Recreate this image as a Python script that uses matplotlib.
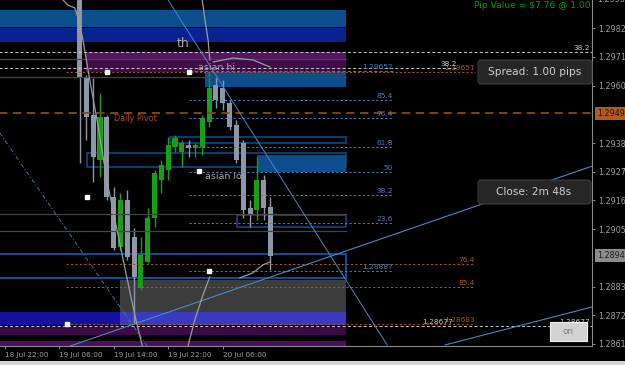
import matplotlib
matplotlib.use("Agg")
import matplotlib.pyplot as plt
from matplotlib.patches import Rectangle, FancyBboxPatch
from matplotlib.transforms import IdentityTransform, blended_transform_factory

plt.rcParams['lines.scale_dashes'] = False

# H1 bars, hours counted from 18 Jul 22:00
bar_hour = list(range(11, 40))
bar_open = [1.29950, 1.29630, 1.29488, 1.29315, 1.29480, 1.29173, 1.28982, 1.29162,
            1.29020, 1.28825, 1.28924, 1.29093, 1.29239, 1.29277, 1.29365, 1.29346,
            1.29373, 1.29361, 1.29365, 1.29461, 1.29603, 1.29591, 1.29534, 1.29449,
            1.29380, 1.29131, 1.29124, 1.29239, 1.29135]
bar_high = [1.29980, 1.29641, 1.29630, 1.29572, 1.29488, 1.29212, 1.29189, 1.29200,
            1.29055, 1.29020, 1.29131, 1.29277, 1.29315, 1.29403, 1.29411, 1.29392,
            1.29392, 1.29380, 1.29488, 1.29649, 1.29633, 1.29622, 1.29545, 1.29469,
            1.29392, 1.29162, 1.29327, 1.29258, 1.29173]
bar_low = [1.29304, 1.29392, 1.29231, 1.29250, 1.29162, 1.28970, 1.28970, 1.28932,
           1.28690, 1.28817, 1.28920, 1.29058, 1.29189, 1.29239, 1.29346, 1.29288,
           1.29327, 1.29327, 1.29334, 1.29442, 1.29515, 1.29507, 1.29430, 1.29304,
           1.29093, 1.29058, 1.29085, 1.29085, 1.28894]
bar_close = [1.29630, 1.29480, 1.29327, 1.29480, 1.29173, 1.28978, 1.29162, 1.28943,
             1.28867, 1.28951, 1.29093, 1.29265, 1.29296, 1.29373, 1.29400, 1.29380,
             1.29361, 1.29373, 1.29476, 1.29591, 1.29545, 1.29534, 1.29442, 1.29315,
             1.29124, 1.29104, 1.29239, 1.29131, 1.28948]

time_ticks = [0, 8, 16, 24, 32]
time_labels = ['18 Jul 22:00', '19 Jul 06:00', '19 Jul 14:00', '19 Jul 22:00', '20 Jul 06:00']
price_ticks = [1.29820, 1.29710, 1.29600, 1.29380, 1.29270, 1.29160, 1.29050,
               1.28830, 1.28720, 1.28610]

# filled zones: start hour, end hour, low, high
zone_start = [-2, -2, 12, 12, 29.4, 37, 17, -2, 17, -2, -2]
zone_end = [50, 50, 50, 50, 50, 50, 50, 17, 50, 50, 50]
zone_low = [1.29825, 1.29768, 1.29702, 1.29652, 1.29595, 1.29269, 1.28733,
            1.28683, 1.28683, 1.28644, 1.28598]
zone_high = [1.29890, 1.29821, 1.29729, 1.29699, 1.29653, 1.29334, 1.28855,
             1.28733, 1.28733, 1.28675, 1.28621]
zone_colors = ['#0c4d8c', '#0a2290', '#561563', '#400c4a', '#0c4d8c', '#0c4d8c',
               '#3c3c3c', '#12129e', '#3a3abf', '#3d0a48', '#4a1056']

# outlined boxes
box_start = [24.3, 12.1, 34.1, -2]
box_low = [1.29380, 1.29288, 1.29058, 1.28863]
box_high = [1.29403, 1.29342, 1.29104, 1.28955]

grey_levels = [1.29702, 1.29633, 1.29108, 1.29043]

blue_fib = [1.29545, 1.29476, 1.29365, 1.29269, 1.29181, 1.29074, 1.28890]
blue_fib_labels = ['85.4', '76.4', '61.8', '50', '38.2', '23.6', '1.28887']
orange_fib = [1.28917, 1.28828, 1.28687]
orange_fib_labels = ['76.4', '85.4', '1.28683']

pivot = 1.29494
last_price = 1.28948

# trend lines (hour, price pairs)
trend_a_h, trend_a_p = [24.0, 56.1], [1.29928, 1.28606]
trend_b_h, trend_b_p = [-0.7, 20.9], [1.29419, 1.28602]
trend_c_h, trend_c_p = [9.2, 86.2], [1.28598, 1.29292]
trend_d_h, trend_d_p = [64.6, 86.2], [1.28606, 1.28752]

# grey curves
curve1_h = [8.6, 9.3, 10.3, 10.9, 11.5, 12.5, 13.7, 15.0, 16.2, 17.7, 19.1, 20.2]
curve1_p = [1.29928, 1.29909, 1.29898, 1.29852, 1.29775, 1.29622, 1.29449,
            1.29239, 1.29085, 1.28894, 1.28721, 1.28602]
curve2_h = [26.9, 27.9, 29.1, 30.1]
curve2_p = [1.28602, 1.28702, 1.28798, 1.28867]
curve3_h = [29.0, 29.4, 29.85, 30.1]
curve3_p = [1.29928, 1.29852, 1.29775, 1.29699]
curve4_h = [30.6, 33.5, 36.4, 38.9]
curve4_p = [1.29691, 1.29706, 1.29699, 1.29672]
curve5_h = [34.5, 36.4, 37.9, 38.9]
curve5_p = [1.28863, 1.28882, 1.28913, 1.28924]

dot_h = [15.0, 27.05, 28.5, 12.1, 30.0, 9.2]
dot_p = [1.29653, 1.29653, 1.29273, 1.29173, 1.28890, 1.28687]

W, H = 625, 365
fig = plt.figure(figsize=(W / 100, H / 100), dpi=100)
fig.patch.set_facecolor('black')
ax = fig.add_axes([0, 19 / H, 592 / W, 346 / H])
ax.set_facecolor('black')
ax.set_xlim(-0.66, 86.14)
ax.set_ylim(1.28602, 1.299285)

for s in ['left', 'top']:
    ax.spines[s].set_visible(False)
for s in ['right', 'bottom']:
    ax.spines[s].set_color('#8a8a8a')
    ax.spines[s].set_linewidth(0.8)

# zones
for x0, x1, lo, hi, c in zip(zone_start, zone_end, zone_low, zone_high, zone_colors):
    ax.add_patch(Rectangle((x0, lo), x1 - x0, hi - lo, facecolor=c, edgecolor='none', zorder=1))
for x0, lo, hi in zip(box_start, box_low, box_high):
    lw = 1.1 if x0 > 0 else 1.4
    ax.add_patch(Rectangle((x0, lo), 50 - x0, hi - lo, facecolor='none',
                           edgecolor='#0e4f96', lw=lw, zorder=2))

# candles
up = [c >= o for o, c in zip(bar_open, bar_close)]
colors = ['#17a017' if u else '#8c98a6' for u in up]
ax.vlines(bar_hour, bar_low, bar_high, colors=colors, lw=1.0, zorder=4)
bottoms = [min(o, c) for o, c in zip(bar_open, bar_close)]
heights = [max(abs(c - o), 0.00003) for o, c in zip(bar_open, bar_close)]
ax.bar(bar_hour, heights, bottom=bottoms, width=0.74, color=colors, zorder=4)

# horizontal lines
for p in grey_levels:
    ax.plot([-2, 50], [p, p], color='#454545', lw=0.9, zorder=5)
ax.plot([-2, 90], [1.29729, 1.29729], color='#c8c8c8', lw=0.7, dashes=(2.2, 1.6), zorder=5)
ax.plot([-2, 66.4], [1.29668, 1.29668], color='#c8c8c8', lw=0.7, dashes=(2.2, 1.6), zorder=5)
ax.plot([-2, 90], [1.28679, 1.28679], color='#c8c8c8', lw=0.7, dashes=(2.2, 1.6), zorder=5)
ax.plot([9, 69], [1.29653, 1.29653], color='#b0561c', lw=0.7, dashes=(1.5, 1.5), zorder=5)
ax.plot([27, 57], [1.29657, 1.29657], color='#4a80b8', lw=0.7, dashes=(2.2, 1.6), zorder=5)
for p in blue_fib:
    ax.plot([27, 57], [p, p], color='#4a80b8', lw=0.7, dashes=(1.6, 1.6), zorder=5)
for p in orange_fib:
    ax.plot([9, 69], [p, p], color='#b0561c', lw=0.7, dashes=(1.6, 1.6), zorder=5)
ax.plot([-2, 90], [pivot, pivot], color='#8c4614', lw=1.3, dashes=(6, 4), zorder=5)

# trend lines and curves
ax.plot(trend_a_h, trend_a_p, color='#4a88c4', lw=0.7, zorder=6)
ax.plot(trend_b_h, trend_b_p, color='#3f74a8', lw=0.7, dashes=(3, 1.5, 0.8, 1.5), zorder=6)
ax.plot(trend_c_h, trend_c_p, color='#4a88c4', lw=0.8, zorder=6)
ax.plot(trend_d_h, trend_d_p, color='#4a88c4', lw=0.8, zorder=6)
for ch, cp in [(curve1_h, curve1_p), (curve2_h, curve2_p), (curve3_h, curve3_p),
               (curve4_h, curve4_p), (curve5_h, curve5_p)]:
    ax.plot(ch, cp, color='#9c9c9c', lw=0.9, zorder=6)
ax.plot(dot_h, dot_p, ls='none', marker='s', ms=2.4, color='white', zorder=7)

# level labels
fs = 5.3
for p, t in zip(blue_fib, blue_fib_labels):
    ax.text(56.9, p + 0.00003, t, color='#4a80b8', fontsize=fs, ha='right', va='bottom', zorder=8)
for p, t in zip(orange_fib, orange_fib_labels):
    ax.text(69, p + 0.00003, t, color='#b0561c', fontsize=fs, ha='right', va='bottom', zorder=8)
ax.text(56.9, 1.29660, '1.29652', color='#4a80b8', fontsize=fs, ha='right', va='bottom', zorder=8)
ax.text(69, 1.29656, '1.29651', color='#b0561c', fontsize=fs, ha='right', va='bottom', zorder=8)
ax.text(66.3, 1.29671, '38.2', color='#c8c8c8', fontsize=fs, ha='right', va='bottom', zorder=8)
ax.text(85.9, 1.29732, '38.2', color='#c8c8c8', fontsize=fs, ha='right', va='bottom', zorder=8)
ax.text(65.8, 1.28682, '1.28677', color='#c8c8c8', fontsize=fs, ha='right', va='bottom', zorder=8)
ax.text(85.9, 1.28682, '1.28677', color='#c8c8c8', fontsize=fs, ha='right', va='bottom', zorder=8)
ax.text(16.0, 1.29476, 'Daily Pivot', color='#a0521e', fontsize=5.9, ha='left', va='center', zorder=8)
ax.text(28.3, 1.29668, 'asian hi', color='#a8a8a8', fontsize=6.8, ha='left', va='center', zorder=8)
ax.text(29.4, 1.29250, 'asian lo', color='#a8a8a8', fontsize=6.8, ha='left', va='center', zorder=8)
ax.text(25.3, 1.29763, 'th', color='#a0a8b0', fontsize=9, ha='left', va='center', zorder=8)

# right price scale
ax.yaxis.tick_right()
ax.set_yticks(price_ticks)
ax.set_yticklabels([f'{p:.5f}' for p in price_ticks])
ax.tick_params(axis='y', colors='#8a8a8a', labelcolor='#a0a0a0', labelsize=5.8,
               length=2.5, width=0.7, pad=2)
ax.set_xticks(time_ticks)
ax.set_xticklabels(time_labels)
ax.tick_params(axis='x', colors='#8a8a8a', labelcolor='#a0a0a0', labelsize=5.2,
               length=2.5, width=0.7, pad=1.5)
for lbl in ax.get_xticklabels():
    lbl.set_ha('left')

yt = blended_transform_factory(ax.transAxes, ax.transData)
ax.text(1.008, 1.29930, '1.29930', transform=yt, color='#a0a0a0', fontsize=5.8,
        va='center', ha='left', clip_on=False)
ax.text(1.008, pivot, '1.29494', transform=yt, color='#1a1a1a', fontsize=5.8, va='center',
        ha='left', clip_on=False,
        bbox=dict(boxstyle='square,pad=0.25', fc='#b45a1e', ec='none'))
ax.text(1.008, last_price, '1.28948', transform=yt, color='#1a1a1a', fontsize=5.8,
        va='center', ha='left', clip_on=False,
        bbox=dict(boxstyle='square,pad=0.25', fc='#8c8c8c', ec='none'))

# overlay panels in pixel coordinates
def px_box(x0, y0, x1, y1, fc, ec):
    fig.patches.append(FancyBboxPatch((x0, H - y1), x1 - x0, y1 - y0,
                                      boxstyle='round,pad=0,rounding_size=3',
                                      transform=IdentityTransform(), fc=fc, ec=ec, lw=0.8,
                                      figure=fig, zorder=10))

px_box(478, 60, 592, 84, '#262626', '#3a3a3a')
fig.text(535 / W, 1 - 72 / H, 'Spread: 1.00 pips', color='#cfcfcf', fontsize=7.6,
         ha='center', va='center', zorder=11)
px_box(478, 180, 591, 204, '#262626', '#3a3a3a')
fig.text(534 / W, 1 - 192 / H, 'Close: 2m 48s', color='#cfcfcf', fontsize=7.6,
         ha='center', va='center', zorder=11)
fig.patches.append(Rectangle((550, H - 341), 37, 19, transform=IdentityTransform(),
                             fc='#d2d2d2', ec='#f2f2f2', lw=0.8, figure=fig, zorder=10))
fig.text(568 / W, 1 - 332 / H, 'on', color='#7a7a7a', fontsize=6.4, ha='center',
         va='center', zorder=11)
fig.text(591 / W, 1 - 6 / H, 'Pip Value = $7.76 @ 1.00', color='#00a000', fontsize=6.6,
         ha='right', va='center', zorder=11)
fig.patches.append(Rectangle((0, 0), W, 4, transform=IdentityTransform(),
                             fc='#d4d4d4', ec='none', figure=fig, zorder=0))

fig.savefig('out.png', dpi=100, facecolor='black')
